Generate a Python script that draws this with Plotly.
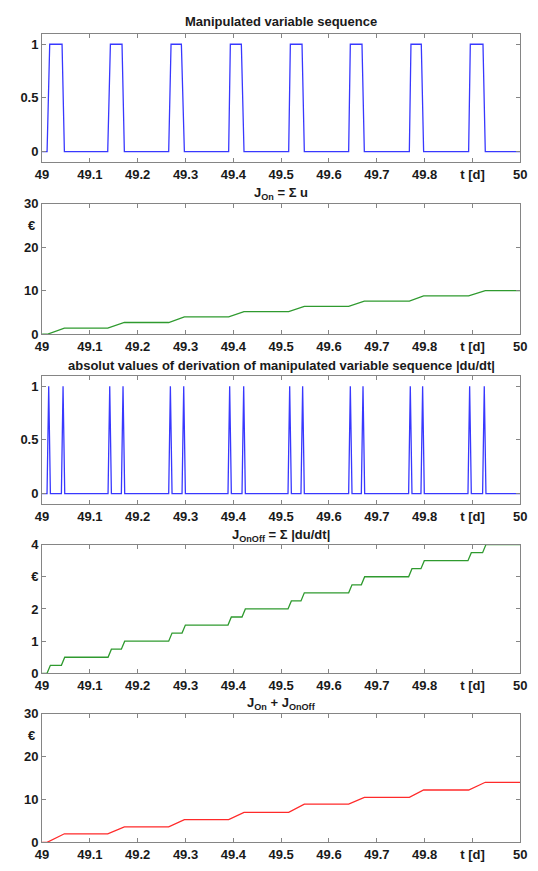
import plotly.graph_objects as go

# ---------------- data ----------------
# pulse edges of the manipulated variable u (time in days)
rise_start = [49.0105, 49.1373, 49.2648, 49.3902, 49.5157, 49.6411, 49.7680, 49.8920]
rise_end   = [49.0160, 49.1429, 49.2697, 49.3937, 49.5192, 49.6446, 49.7714, 49.8955]
fall_start = [49.0418, 49.1672, 49.2913, 49.4167, 49.5436, 49.6690, 49.7930, 49.9220]
fall_end   = [49.0467, 49.1721, 49.2976, 49.4223, 49.5484, 49.6739, 49.7979, 49.9268]
u_on = 1.0
u_off = 0.0

# |du/dt| spikes (centre time, peak value)
spike_t = [49.0139, 49.0439, 49.1415, 49.1693, 49.2683, 49.2962, 49.3923, 49.4216,
           49.5178, 49.5449, 49.6446, 49.6711, 49.7700, 49.7958, 49.8941, 49.9247]
spike_peak = [1.0, 1.0, 1.0, 1.0, 1.0, 1.0, 1.0, 1.0,
              1.0, 1.0, 1.0, 1.0, 1.0, 1.0, 1.0, 1.0]
spike_halfwidth = 0.0035

# cost levels reached after each pulse / edge
j_on_levels = [1.4, 2.7, 4.0, 5.2, 6.4, 7.6, 8.8, 10.0]
j_onoff_levels = [0.25, 0.5, 0.75, 1.0, 1.25, 1.5, 1.75, 2.0,
                  2.25, 2.5, 2.75, 3.0, 3.25, 3.5, 3.75, 4.0]
j_total_levels = [2.0, 3.6, 5.3, 7.0, 8.9, 10.5, 12.2, 14.0]

t_start, t_end = 49.0, 50.0
x_tickvals = [49.0, 49.1, 49.2, 49.3, 49.4, 49.5, 49.6, 49.7, 49.8, 49.9, 50.0]
x_ticktext = ["49", "49.1", "49.2", "49.3", "49.4", "49.5", "49.6", "49.7", "49.8", "t [d]", "50"]

titles = ["Manipulated variable sequence",
          "J<sub>On</sub> = \u03a3 u",
          "absolut values of derivation of manipulated variable sequence |du/dt|",
          "J<sub>OnOff</sub> = \u03a3 |du/dt|",
          "J<sub>On</sub> + J<sub>OnOff</sub>"]

# ---------------- build line tables ----------------
u_t, u_v = [t_start], [u_off]
for rs, re_, fs, fe in zip(rise_start, rise_end, fall_start, fall_end):
    u_t += [rs, re_, fs, fe]
    u_v += [u_off, u_on, u_on, u_off]
u_t.append(t_end); u_v.append(u_off)

du_t, du_v = [t_start], [0.0]
for st, pk in zip(spike_t, spike_peak):
    du_t += [st - spike_halfwidth, st, st + spike_halfwidth]
    du_v += [0.0, pk, 0.0]
du_t.append(t_end); du_v.append(0.0)


def ramp_steps(starts, ends, levels):
    tt, vv, prev = [t_start], [0.0], 0.0
    for s, e, lv in zip(starts, ends, levels):
        tt += [s, e]
        vv += [prev, lv]
        prev = lv
    tt.append(t_end); vv.append(prev)
    return tt, vv


jon_t, jon_v = ramp_steps(rise_start, fall_end, j_on_levels)
joo_t, joo_v = ramp_steps([s - spike_halfwidth for s in spike_t],
                          [s + spike_halfwidth for s in spike_t], j_onoff_levels)
jt_t, jt_v = ramp_steps(rise_start, fall_end, j_total_levels)

# ---------------- layout geometry (pixels) ----------------
W, H = 538, 871
x_left, x_right = 36, 527
rows_px = [(27, 158), (200, 333), (375, 506), (547, 678), (719, 850)]
title_px = [15, 190, 365, 538, 709]

BLUE = "#3838ff"
GREEN = "#2f9a2f"
RED = "#ff2a2a"
FONT = "Liberation Sans, Arial, sans-serif"
TXT = dict(family=FONT, size=13, color="#1a1a1a", weight="bold")

fig = go.Figure()
series = [(u_t, u_v, BLUE), (jon_t, jon_v, GREEN), (du_t, du_v, BLUE),
          (joo_t, joo_v, GREEN), (jt_t, jt_v, RED)]
for i, (tt, vv, col) in enumerate(series):
    sfx = "" if i == 0 else str(i + 1)
    fig.add_trace(go.Scatter(x=tt, y=vv, mode="lines",
                             line=dict(color=col, width=1.3),
                             xaxis="x" + sfx, yaxis="y" + sfx,
                             showlegend=False, hoverinfo="skip"))

y_cfg = [
    dict(range=[-0.1, 1.1], tickvals=[0, 0.5, 1], ticktext=["0", "0.5", "1"]),
    dict(range=[0, 30], tickvals=[0, 10, 20, 30], ticktext=["0", "10", "20", "30"]),
    dict(range=[-0.1, 1.1], tickvals=[0, 0.5, 1], ticktext=["0", "0.5", "1"]),
    dict(range=[0, 4], tickvals=[0, 1, 2, 3, 4], ticktext=["0", "1", "2", "\u20ac", "4"]),
    dict(range=[0, 30], tickvals=[0, 10, 20, 30], ticktext=["0", "10", "20", "30"]),
]

common = dict(showline=True, linecolor="#858585", linewidth=1, mirror="allticks",
              ticks="inside", ticklen=4, tickcolor="#858585", showgrid=False,
              zeroline=False, tickfont=TXT)

layout = dict(width=W, height=H, autosize=False,
              margin=dict(l=0, r=0, t=0, b=0),
              paper_bgcolor="white", plot_bgcolor="white",
              font=dict(family=FONT, size=13, color="#1a1a1a"))
annotations = []
for i, (top, bot) in enumerate(rows_px):
    sfx = "" if i == 0 else str(i + 1)
    layout["xaxis" + sfx] = dict(domain=[x_left / W, x_right / W], range=[t_start, t_end],
                                 tickvals=x_tickvals, ticktext=x_ticktext,
                                 anchor="y" + sfx, **common)
    layout["yaxis" + sfx] = dict(domain=[1 - bot / H, 1 - top / H], anchor="x" + sfx,
                                 **y_cfg[i], **common)
    annotations.append(dict(text=titles[i], xref="paper", yref="paper",
                            x=(x_left + x_right) / 2 / W, y=1 - title_px[i] / H,
                            xanchor="center", yanchor="middle", showarrow=False,
                            font=TXT))

# euro unit labels for the cost plots on 0-30 scale
for sfx in ["2", "5"]:
    annotations.append(dict(text="\u20ac", xref="paper", yref="y" + sfx,
                            x=x_left / W, y=25, xanchor="right", yanchor="middle",
                            xshift=-5, showarrow=False, font=TXT))
layout["annotations"] = annotations
fig.update_layout(**layout)
fig.write_html("out.html")
